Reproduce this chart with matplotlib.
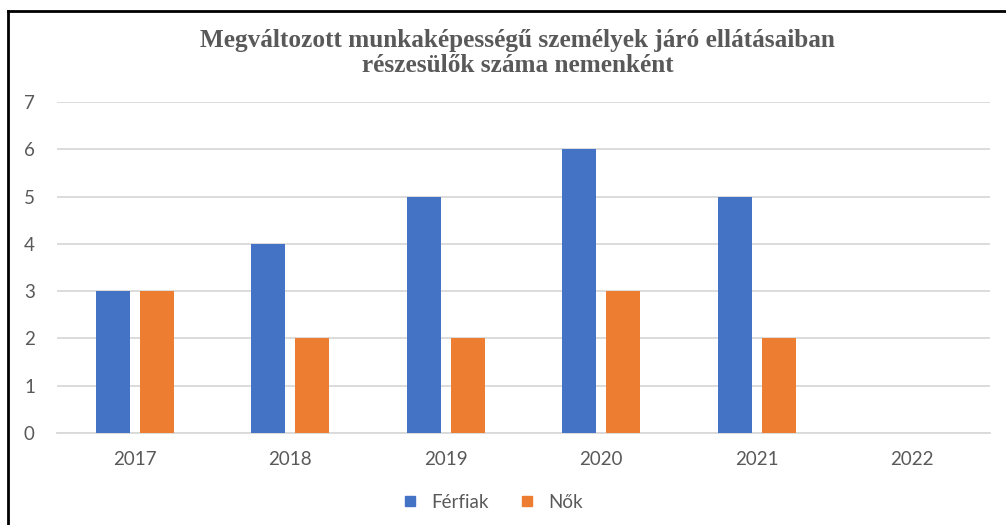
import matplotlib
matplotlib.use("Agg")
import matplotlib.pyplot as plt
from matplotlib.lines import Line2D
import numpy as np

years = ["2017", "2018", "2019", "2020", "2021", "2022"]
ferfiak = [3, 4, 5, 6, 5, 0]
nok = [3, 2, 2, 3, 2, 0]
series_names = ["Férfiak", "Nők"]
colors = ["#4472C4", "#ED7D31"]
title_lines = ["Megváltozott munkaképességű személyek járó ellátásaiban",
               "részesülők száma nemenként"]

W, H = 1006, 525
fig = plt.figure(figsize=(W / 100, H / 100), dpi=100)
ax = fig.add_axes([57 / W, 1 - 433 / H, (990 - 57) / W, (433 - 102) / H])

x = np.arange(len(years))
bw = 0.22
gap = 0.064
ax.bar(x - (bw + gap) / 2, ferfiak, bw, color=colors[0], zorder=3)
ax.bar(x + (bw + gap) / 2, nok, bw, color=colors[1], zorder=3)

ax.set_xlim(-0.5, len(years) - 0.5)
ax.set_ylim(0, 7)
ax.set_yticks(range(0, 8))
ax.set_xticks(x)
ax.set_xticklabels(years)
ax.yaxis.grid(True, color="#d9d9d9", linewidth=1.3, zorder=0)
for s in ["top", "right", "left"]:
    ax.spines[s].set_visible(False)
ax.spines["bottom"].set_color("#d9d9d9")
ax.spines["bottom"].set_linewidth(1.3)
ax.tick_params(axis="both", length=0, labelcolor="#595959", labelsize=13.5)
ax.tick_params(axis="x", pad=13)
for lbl in ax.get_xticklabels() + ax.get_yticklabels():
    lbl.set_family("Lato")
for lbl in ax.get_yticklabels():
    lbl.set_horizontalalignment("left")
    lbl.set_x(-33 / (990 - 57))
ax.tick_params(axis="y", pad=0)

for i, line in enumerate(title_lines):
    fig.text(517.5 / W, 1 - (40 + 26 * i) / H, line, ha="center", va="center",
             family="Liberation Serif", fontweight="bold", fontsize=18.2,
             color="#595959")

handles = [Line2D([], [], marker="s", linestyle="", markersize=7.5,
                  color=c) for c in colors]
fig.legend(handles, series_names, loc="center", bbox_to_anchor=(487 / W, 1 - 502 / H),
           ncol=2, frameon=False, handletextpad=0.15, columnspacing=1.0,
           prop={"family": "Lato", "size": 13.5}, labelcolor="#595959")

# frame lines along the left and top edge
fig.add_artist(Line2D([7.5 / W, 7.5 / W], [0, 1 - 11 / H], color="black", linewidth=2,
                      transform=fig.transFigure))
fig.add_artist(Line2D([7.5 / W, 1], [1 - 11 / H, 1 - 11 / H], color="black", linewidth=2,
                      transform=fig.transFigure))

fig.savefig("out.png", dpi=100)
